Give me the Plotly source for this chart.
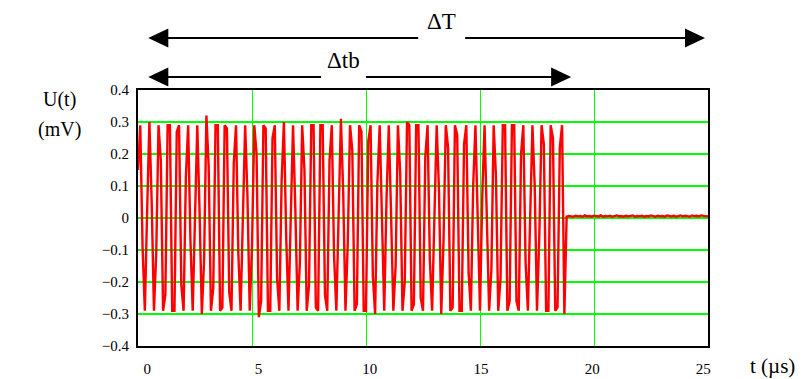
import plotly.graph_objects as go

# ---------------- data ----------------
dt_us = 0.1  # sampling step (µs)
burst_mV = [
    0.15, 0.29, -0.09, -0.29, 0.02, 0.30, 0.05, -0.29, -0.11, 0.29, 0.18, -0.29, -0.24, 0.29, 0.29, -0.29, -0.29, 0.27, 0.29, -0.21, -0.29,
    0.13, 0.29, -0.07, -0.29, 0.04, 0.29, 0.02, -0.30, -0.13, 0.32, 0.16, -0.29, -0.22, 0.29, 0.29, -0.29, -0.28, 0.29, 0.28, -0.23, -0.29,
    0.17, 0.29, -0.11, -0.29, 0.00, 0.29, 0.07, -0.29, -0.09, 0.29, 0.20, -0.31, -0.26, 0.29, 0.28, -0.29, -0.29, 0.25, 0.29, -0.19, -0.29,
    0.12, 0.30, -0.06, -0.29, 0.05, 0.29, 0.03, -0.29, -0.14, 0.29, 0.15, -0.29, -0.21, 0.29, 0.29, -0.28, -0.29, 0.29, 0.29, -0.24, -0.29,
    0.18, 0.29, -0.12, -0.29, -0.01, 0.31, 0.08, -0.29, -0.08, 0.29, 0.21, -0.29, -0.27, 0.29, 0.27, -0.29, -0.29, 0.24, 0.29, -0.18, -0.30,
    0.11, 0.29, -0.05, -0.29, 0.06, 0.29, 0.01, -0.29, -0.15, 0.29, 0.14, -0.29, -0.20, 0.30, 0.29, -0.29, -0.27, 0.29, 0.29, -0.25, -0.29,
    0.19, 0.29, -0.13, -0.29, -0.02, 0.29, 0.09, -0.30, -0.07, 0.29, 0.22, -0.29, -0.28, 0.29, 0.26, -0.29, -0.29, 0.23, 0.29, -0.17, -0.29,
    0.10, 0.29, -0.04, -0.29, 0.07, 0.29, 0.00, -0.29, -0.16, 0.29, 0.13, -0.29, -0.19, 0.29, 0.29, -0.29, -0.26, 0.29, 0.29, -0.26, -0.29,
    0.20, 0.29, -0.14, -0.29, -0.03, 0.29, 0.10, -0.29, -0.06, 0.29, 0.23, -0.29, -0.29, 0.29, 0.25, -0.29, -0.28, 0.22, 0.29, -0.30,
]
tail_mV = [
    0.004, 0.006, 0.005, 0.004, 0.007, 0.005, 0.006, 0.004, 0.008, 0.005,
    0.006, 0.004, 0.007, 0.006, 0.005, 0.008, 0.004, 0.006, 0.005, 0.007,
    0.004, 0.006, 0.008, 0.005, 0.006, 0.004, 0.007, 0.005, 0.006, 0.008,
    0.004, 0.006, 0.005, 0.007, 0.004, 0.006, 0.005, 0.008, 0.006, 0.004,
    0.007, 0.005, 0.006, 0.004, 0.008, 0.006, 0.005, 0.007, 0.004, 0.006,
    0.008, 0.005, 0.007, 0.006, 0.004, 0.008, 0.006, 0.007, 0.005, 0.008,
    0.006, 0.005, 0.006,
]
signal_mV = burst_mV + tail_mV
time_us = [round(i * dt_us, 3) for i in range(len(signal_mV))]

x_ticks = [0, 5, 10, 15, 20, 25]
y_ticks = [0.4, 0.3, 0.2, 0.1, 0, -0.1, -0.2, -0.3, -0.4]
y_ticklabels = ["0.4", "0.3", "0.2", "0.1", "0", "\u22120.1", "\u22120.2", "\u22120.3", "\u22120.4"]

# interval markers (µs)
dT_span = [0.45, 24.87]
dtb_span = [0.45, 19.0]

FONT = "Liberation Serif"
GREEN = "#00ff00"
RED = "#ff0000"

fig = go.Figure()
fig.add_trace(go.Scatter(x=time_us, y=signal_mV, mode="lines",
                         line=dict(color=RED, width=2.4), hoverinfo="skip",
                         showlegend=False))
fig.add_trace(go.Scatter(x=[0, 25], y=[0, 0], xaxis="x2", mode="lines",
                         line=dict(width=0), opacity=0, hoverinfo="skip",
                         showlegend=False))

fig.update_layout(
    width=798, height=371,
    margin=dict(l=130, r=98, t=82, b=33, autoexpand=False),
    paper_bgcolor="white", plot_bgcolor="white",
    font=dict(family=FONT, color="black", size=15),
    xaxis=dict(range=[0, 25], tickvals=[5, 10, 15, 20], showticklabels=False,
               showgrid=True, gridcolor=GREEN, gridwidth=1, zeroline=False,
               showline=True, linecolor="black", linewidth=2, mirror=True,
               ticks="", automargin=False),
    xaxis2=dict(range=[-0.42, 25.21], overlaying="x", side="bottom",
                tickvals=x_ticks, ticktext=[str(v) for v in x_ticks],
                showgrid=False, zeroline=False, showline=False, ticks="",
                ticklabelstandoff=12, automargin=False,
                tickfont=dict(size=15, family=FONT)),
    yaxis=dict(range=[-0.4, 0.4], tickvals=y_ticks, ticktext=y_ticklabels,
               showgrid=True, gridcolor=GREEN, gridwidth=1.5, zeroline=False,
               showline=True, linecolor="black", linewidth=2, mirror=True,
               ticks="", ticklabelstandoff=4, automargin=False,
               tickfont=dict(size=15, family=FONT)),
)

def arrow(span, ypaper, gap, label, ylab):
    x0, x1 = span
    head_len = 0.88
    head_h = 0.037
    fig.add_shape(type="line", xref="x", yref="paper", x0=x0 + head_len * 0.5, x1=gap[0],
                  y0=ypaper, y1=ypaper, line=dict(color="black", width=2))
    fig.add_shape(type="line", xref="x", yref="paper", x0=gap[1], x1=x1 - head_len * 0.5,
                  y0=ypaper, y1=ypaper, line=dict(color="black", width=2))
    fig.add_shape(type="path", xref="x", yref="paper",
                  path=f"M {x0} {ypaper} L {x0 + head_len} {ypaper + head_h} L {x0 + head_len} {ypaper - head_h} Z",
                  fillcolor="black", line=dict(color="black", width=0))
    fig.add_shape(type="path", xref="x", yref="paper",
                  path=f"M {x1} {ypaper} L {x1 - head_len} {ypaper + head_h} L {x1 - head_len} {ypaper - head_h} Z",
                  fillcolor="black", line=dict(color="black", width=0))
    fig.add_annotation(x=(gap[0] + gap[1]) / 2, y=ylab, xref="x", yref="paper",
                       text=label, showarrow=False, font=dict(size=23, family=FONT),
                       xanchor="center", yanchor="middle")

arrow(dT_span, 1.203, [12.29, 14.35], "\u0394T", 1.266)
arrow(dtb_span, 1.051, [8.03, 10.0], "\u0394tb", 1.117)

fig.add_annotation(x=-0.137, y=0.961, xref="paper", yref="paper", text="U(t)",
                   showarrow=False, font=dict(size=20, family=FONT), xanchor="center", yanchor="middle")
fig.add_annotation(x=-0.137, y=0.844, xref="paper", yref="paper", text="(mV)",
                   showarrow=False, font=dict(size=20, family=FONT), xanchor="center", yanchor="middle")
fig.add_annotation(x=1.114, y=-0.078, xref="paper", yref="paper", text="t (\u00b5s)",
                   showarrow=False, font=dict(size=21, family=FONT), xanchor="center", yanchor="middle")

fig.write_html("out.html")
